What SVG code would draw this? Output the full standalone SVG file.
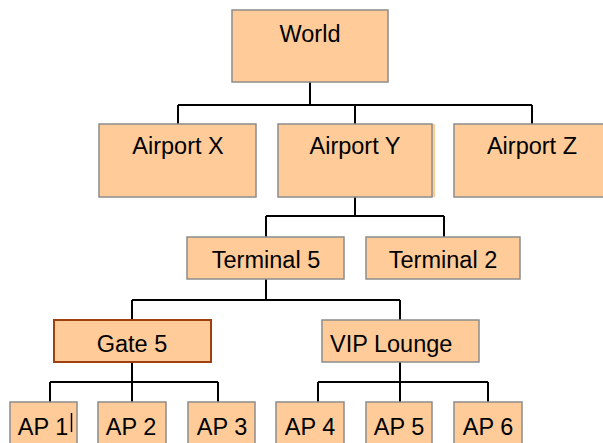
<svg xmlns="http://www.w3.org/2000/svg" width="603" height="443" viewBox="0 0 603 443">
  <style>
    .box { fill: #FFCC99; stroke: #8C8C8C; stroke-width: 1.5; }
    .sel { fill: #FFCC99; stroke: #A0400F; stroke-width: 2; }
    .lbl { font-family: "Liberation Sans", Arial, sans-serif; font-size: 23.5px; fill: #000; text-anchor: middle; }
    .wire { fill: none; stroke: #000; stroke-width: 2; }
  </style>
  <rect width="603" height="443" fill="#fff"/>

  <!-- tree connectors -->
  <g id="connectors">
    <path class="wire" d="M310 82 V105 M178 105 H532 M178 105 V124 M355 105 V124 M532 105 V124"/>
    <path class="wire" d="M355 197 V216 M266 216 H444 M266 216 V237 M444 216 V237"/>
    <path class="wire" d="M266 279 V300 M132 300 H400 M132 300 V320 M400 300 V320"/>
    <path class="wire" d="M132 362 V382 M50 382 H218 M50 382 V402 M132 382 V402 M218 382 V402"/>
    <path class="wire" d="M400 362 V382 M318 382 H488 M318 382 V402 M400 382 V402 M488 382 V402"/>
  </g>

  <g id="world">
    <rect class="box" x="232" y="10" width="156" height="72"/>
    <text class="lbl" x="310" y="42">World</text>
  </g>

  <g id="airport-x">
    <rect class="box" x="99" y="124" width="157" height="73"/>
    <text class="lbl" x="178" y="154">Airport X</text>
  </g>
  <g id="airport-y">
    <rect x="280" y="124" width="155" height="73" fill="#FFCC99"/>
    <rect class="box" x="278" y="124" width="154" height="73"/>
    <text class="lbl" x="355" y="154">Airport Y</text>
  </g>
  <g id="airport-z">
    <rect class="box" x="454" y="124" width="160" height="73"/>
    <text class="lbl" x="532" y="154">Airport Z</text>
  </g>

  <g id="terminal-5">
    <rect class="box" x="187" y="237" width="157" height="42"/>
    <text class="lbl" x="266" y="268">Terminal 5</text>
  </g>
  <g id="terminal-2">
    <rect class="box" x="366" y="237" width="154" height="42"/>
    <text class="lbl" x="443" y="268">Terminal 2</text>
  </g>

  <g id="gate-5">
    <rect class="sel" x="54" y="320" width="157" height="42"/>
    <text class="lbl" x="132" y="351.5">Gate 5</text>
  </g>
  <g id="vip-lounge">
    <rect class="box" x="322" y="320" width="157" height="42"/>
    <text class="lbl" x="330" y="351.5" style="text-anchor:start">VIP Lounge</text>
  </g>

  <g id="ap-1">
    <rect class="box" x="10" y="402" width="67" height="50"/>
    <text class="lbl" x="43" y="435">AP 1</text>
    <line x1="71.5" y1="413" x2="71.5" y2="432" stroke="#000" stroke-width="1.5"/>
  </g>
  <g id="ap-2">
    <rect class="box" x="98" y="402" width="68" height="50"/>
    <text class="lbl" x="131" y="435">AP 2</text>
  </g>
  <g id="ap-3">
    <rect class="box" x="188" y="402" width="67" height="50"/>
    <text class="lbl" x="222" y="435">AP 3</text>
  </g>
  <g id="ap-4">
    <rect class="box" x="276" y="402" width="68" height="50"/>
    <text class="lbl" x="310" y="435">AP 4</text>
  </g>
  <g id="ap-5">
    <rect class="box" x="366" y="402" width="66" height="50"/>
    <text class="lbl" x="399" y="435">AP 5</text>
  </g>
  <g id="ap-6">
    <rect class="box" x="454" y="402" width="68" height="50"/>
    <text class="lbl" x="488" y="435">AP 6</text>
  </g>
</svg>
